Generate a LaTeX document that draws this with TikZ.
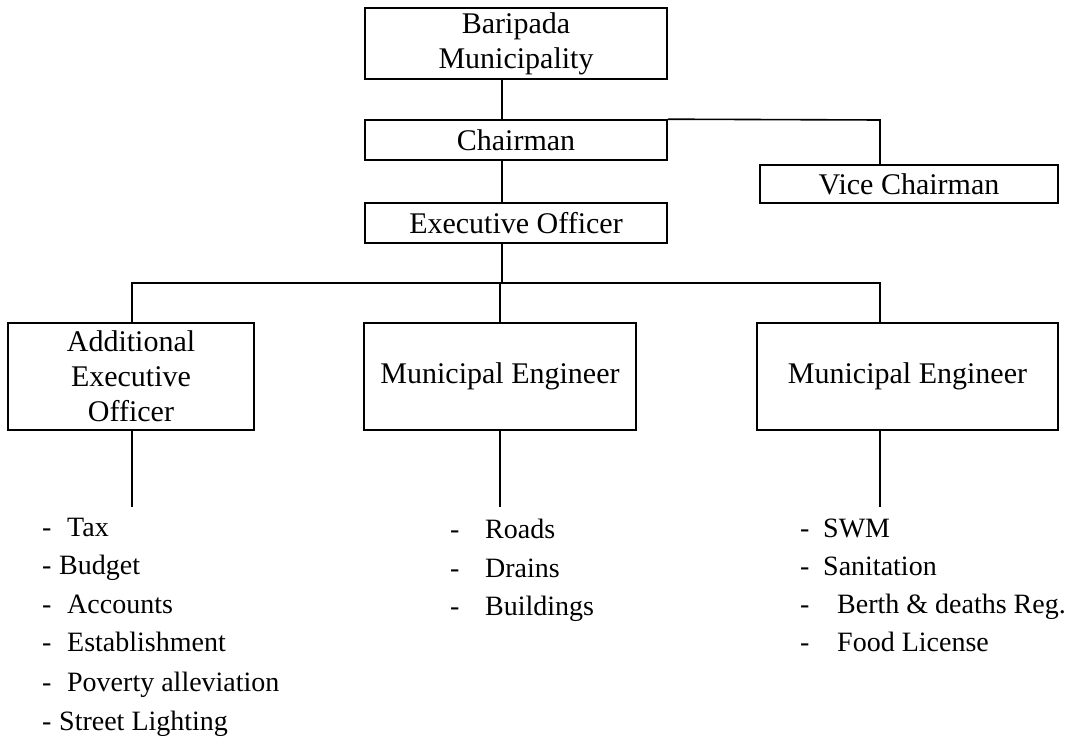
\documentclass[tikz,border=0pt]{standalone}
\usepackage{fontspec}
\setmainfont{Liberation Serif}
\newcommand\dashitem[2]{\makebox[#1][l]{-}#2}
\begin{document}
\begin{tikzpicture}[x=1pt,y=-1pt,
  orgbox/.style={draw,line width=1.6pt,rectangle,inner sep=0pt,align=center,font=\fontsize{30}{35}\selectfont},
  conn/.style={line width=1.6pt},
  listitem/.style={anchor=base west,inner sep=0pt,font=\fontsize{28}{32}\selectfont}]
\useasboundingbox[fill=white] (0,0) rectangle (1069,741);
% boxes
\node[orgbox,minimum width=302pt,minimum height=71pt] (bari) at (516,43.5) {Baripada\\Municipality};
\node[orgbox,minimum width=302pt,minimum height=40pt] (chair) at (516,140) {Chairman};
\node[orgbox,minimum width=298pt,minimum height=38pt] (vice) at (909,184) {Vice Chairman};
\node[orgbox,minimum width=302pt,minimum height=40pt] (exec) at (516,223) {Executive Officer};
\node[orgbox,minimum width=246pt,minimum height=107pt] (add) at (131,376.5) {Additional\\Executive\\Officer};
\node[orgbox,minimum width=272pt,minimum height=107pt] (me1) at (500,376.5) {Municipal Engineer};
\node[orgbox,minimum width=301pt,minimum height=107pt] (me2) at (907.5,376.5) {Municipal Engineer};
% helper coordinates
\coordinate (spine) at (502,283);
\coordinate (rx) at (880,120);
\coordinate (lx) at (132,283);
\coordinate (mx) at (500,283);
\coordinate (lend) at (132,507);
\coordinate (mend) at (500,507);
\coordinate (rend) at (880,507);
% connectors
\draw[conn] (bari.south -| spine) -- (chair.north -| spine);
\draw[conn] (chair.north east) -- (rx) -- (vice.north -| rx);
\draw[conn] (chair.south -| spine) -- (exec.north -| spine);
\draw[conn] (exec.south -| spine) -- (spine);
\draw[conn] (add.north -| lx) -- (lx) -- (rx |- lx) -- (me2.north -| rx);
\draw[conn] (mx) -- (me1.north -| mx);
\draw[conn] (add.south -| lend) -- (lend);
\draw[conn] (me1.south -| mend) -- (mend);
\draw[conn] (me2.south -| rend) -- (rend);
% lists
\node[listitem] (l1) at (42,536) {\dashitem{25pt}{Tax}};
\node[listitem] (l2) at (42,574) {\dashitem{17pt}{Budget}};
\node[listitem] (l3) at (42,613) {\dashitem{25pt}{Accounts}};
\node[listitem] (l4) at (42,651) {\dashitem{25pt}{Establishment}};
\node[listitem] (l5) at (42,691) {\dashitem{25pt}{Poverty alleviation}};
\node[listitem] (l6) at (42,730) {\dashitem{17pt}{Street Lighting}};
\node[listitem] (m1) at (450,538) {\dashitem{35pt}{Roads}};
\node[listitem] (m2) at (450,577) {\dashitem{35pt}{Drains}};
\node[listitem] (m3) at (450,615) {\dashitem{35pt}{Buildings}};
\node[listitem] (r1) at (800,537) {\dashitem{23pt}{SWM}};
\node[listitem] (r2) at (800,575) {\dashitem{23pt}{Sanitation}};
\node[listitem] (r3) at (800,613) {\dashitem{37pt}{Berth \& deaths Reg.}};
\node[listitem] (r4) at (800,651) {\dashitem{37pt}{Food License}};
\end{tikzpicture}
\end{document}
